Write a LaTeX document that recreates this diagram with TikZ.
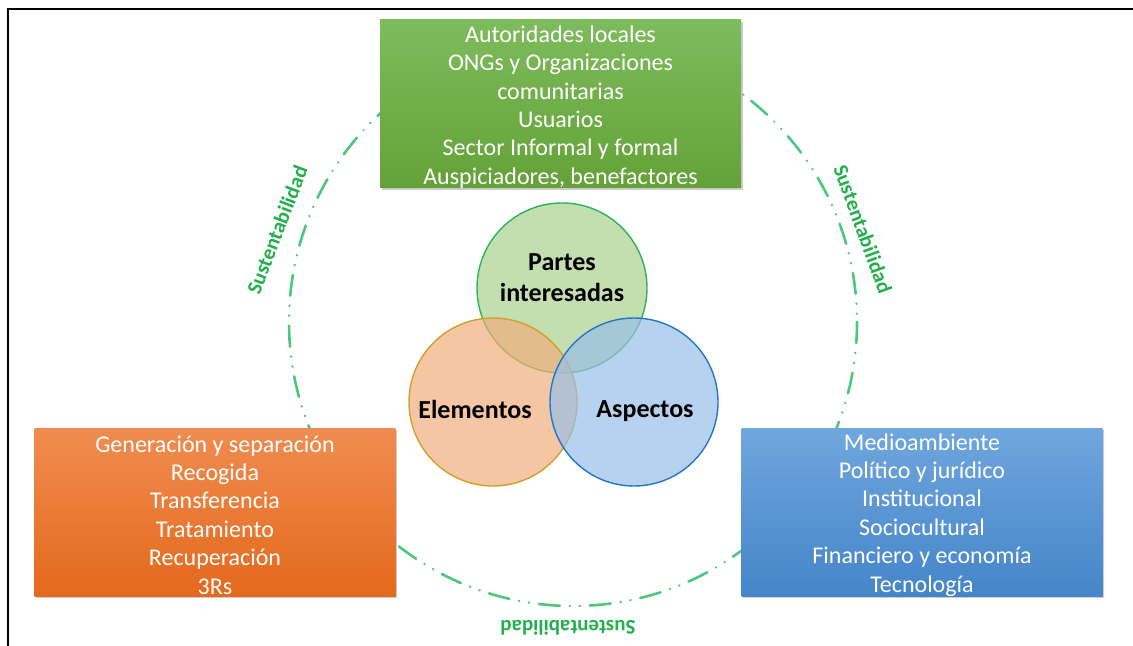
\documentclass[tikz,border=0pt]{standalone}
\usepackage{fontspec}
\setmainfont{Carlito}
\usetikzlibrary{shadows}
\definecolor{ringgreen}{HTML}{4DC77B}
\definecolor{sustgreen}{HTML}{22B04C}
\definecolor{boxgreenA}{HTML}{7EBB5C}
\definecolor{boxgreenB}{HTML}{64A238}
\definecolor{boxorangeA}{HTML}{F08C50}
\definecolor{boxorangeB}{HTML}{E4691C}
\definecolor{boxblueA}{HTML}{6FA6DE}
\definecolor{boxblueB}{HTML}{4585C8}
\definecolor{venngreen}{HTML}{A9D18D}
\definecolor{vennorange}{HTML}{F1AE7D}
\definecolor{vennblue}{HTML}{99BFE7}
\definecolor{edgegreen}{HTML}{2EB25A}
\definecolor{edgeorange}{HTML}{D2A02A}
\definecolor{edgeblue}{HTML}{2277C9}
\tikzset{
  groupbox/.style={minimum width=180.5pt, minimum height=84pt, inner sep=0pt,
    drop shadow={shadow xshift=0.8pt, shadow yshift=-0.8pt, opacity=0.4}},
  boxtext/.style={text=white, align=center, inner sep=0pt, font=\fontsize{12}{14.2}\selectfont},
  venn/.style={circle, minimum size=84pt, inner sep=0pt, fill opacity=0.7, line width=0.7pt},
  vennlabel/.style={align=center, font=\bfseries\fontsize{13}{15.5}\selectfont},
  sustlabel/.style={text=sustgreen, font=\bfseries\fontsize{10.5}{12}\selectfont},
  ring/.style={ringgreen, line width=1.3pt, line cap=round,
    dash pattern=on 10.5pt off 5pt on 0.01pt off 5pt on 0.01pt off 5pt}
}
\begin{document}
\begin{tikzpicture}[x=0.5pt, y=-0.5pt]
\useasboundingbox (0,0) rectangle (1133,646);
\draw[line width=1pt] (8,646) -- (8,9) -- (1133,9);
% dashed ring
\draw[ring] (573,322) circle[radius=284];
\node[sustlabel, rotate=69] (sustL) at (277,230) {Sustentabilidad};
\node[sustlabel, rotate=-70] (sustR) at (863,229) {Sustentabilidad};
\node[sustlabel, rotate=180] (sustB) at (568,628) {Sustentabilidad};
% outer boxes
\node[groupbox, top color=boxgreenA, bottom color=boxgreenB] (partes) at (560.5,104) {};
\node[groupbox, top color=boxorangeA, bottom color=boxorangeB] (elementos) at (215,512.5) {};
\node[groupbox, top color=boxblueA, bottom color=boxblueB] (aspectos) at (922,512.5) {};
\node[boxtext] (partesTxt) at ([yshift=-1.5pt]partes.center)
  {Autoridades locales\\ONGs y Organizaciones\\comunitarias\\Usuarios\\Sector Informal y formal\\Auspiciadores, benefactores};
\node[boxtext] (elementosTxt) at ([yshift=-1.2pt]elementos.center)
  {Generación y separación\\Recogida\\Transferencia\\Tratamiento\\Recuperación\\3Rs};
\node[boxtext] (aspectosTxt) at ([yshift=-1.2pt]aspectos.center)
  {Medioambiente\\Político y jurídico\\Institucional\\Sociocultural\\Financiero y economía\\Tecnología};
% venn
\node[venn, minimum size=85pt, draw=edgegreen, fill=venngreen] (cPartes) at (562,288) {};
\node[venn, draw=edgeorange, fill=vennorange] (cElem) at (493,402) {};
\node[venn, draw=edgeblue, fill=vennblue] (cAsp) at (634,402) {};
\node[vennlabel] (lPartes) at (562,278) {Partes\\interesadas};
\node[vennlabel] (lElem) at (475,409) {Elementos};
\node[vennlabel] (lAsp) at (645,411) {Aspectos};
\end{tikzpicture}
\end{document}
